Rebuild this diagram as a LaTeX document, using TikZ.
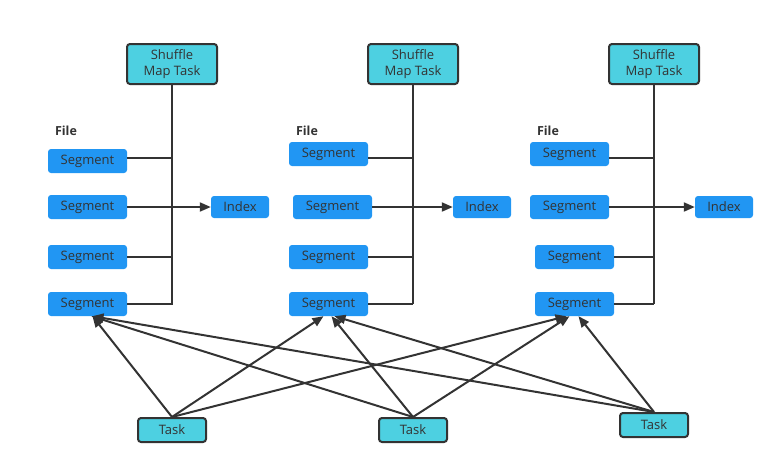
\documentclass[tikz,border=0pt]{standalone}
\usepackage{fontspec}
\setmainfont{Open Sans}
\usetikzlibrary{arrows.meta,calc}
\definecolor{segblue}{HTML}{2196F3}
\definecolor{cyanbox}{HTML}{4DD0E1}
\definecolor{ink}{HTML}{333333}
\begin{document}
\begin{tikzpicture}[x=1pt,y=-1pt,
  segbox/.style={fill=segblue, rounded corners=3pt, minimum width=79pt, minimum height=24pt, inner sep=0pt, text=ink, font=\fontsize{13}{15}\selectfont},
  idxbox/.style={segbox, minimum width=58pt, minimum height=22pt},
  mapbox/.style={fill=cyanbox, draw=ink, line width=2pt, rounded corners=3pt, minimum width=90pt, minimum height=40pt, inner sep=0pt, text=ink, align=center, font=\fontsize{13}{16}\selectfont},
  taskbox/.style={mapbox, minimum width=68pt, minimum height=24pt},
  wire/.style={draw=ink, line width=2pt},
  arr/.style={wire, -{Triangle[length=11pt,width=9pt]}},
  filelbl/.style={text=ink, font=\bfseries\fontsize{12.5}{14}\selectfont, inner sep=0pt}]
\useasboundingbox (0,0) rectangle (768,469);

% ---- column 1 ----
\node[mapbox] (m1) at (172,64) {Shuffle\\Map Task};
\node[filelbl] (f1) at (66,131) {File};
\node[segbox] (a1) at (87.5,161) {Segment};
\node[segbox] (b1) at (87.5,207) {Segment};
\node[segbox] (c1) at (87.5,257) {Segment};
\node[segbox] (d1) at (87.5,304) {Segment};
\node[idxbox] (i1) at (240,207) {Index};
\coordinate (e1) at (172,305);
\draw[wire] (m1.south) -- (e1);
\draw[wire] ([yshift=3pt]a1.east) -- ([yshift=3pt]a1.east -| e1);
\draw[wire] (c1.east) -- (c1.east -| e1);
\draw[wire] (d1.east) -- (d1.east -| e1);
\draw[arr] (b1.east) -- (i1.west);

% ---- column 2 ----
\node[mapbox] (m2) at (413,64) {Shuffle\\Map Task};
\node[filelbl] (f2) at (307,131) {File};
\node[segbox] (a2) at (328.5,154) {Segment};
\node[segbox] (b2) at (332.5,207) {Segment};
\node[segbox] (c2) at (328.5,257) {Segment};
\node[segbox] (d2) at (328.5,304) {Segment};
\node[idxbox] (i2) at (482,207) {Index};
\coordinate (e2) at (413,304);
\draw[wire] (m2.south) -- (e2);
\draw[wire] ([yshift=-4pt]a2.east) -- ([yshift=-4pt]a2.east -| e2);
\draw[wire] (c2.east) -- (c2.east -| e2);
\draw[wire] (d2.east) -- (d2.east -| e2);
\draw[arr] (b2.east) -- (i2.west);

% ---- column 3 ----
\node[mapbox] (m3) at (654,64) {Shuffle\\Map Task};
\node[filelbl] (f3) at (548,131) {File};
\node[segbox] (a3) at (569.5,154) {Segment};
\node[segbox] (b3) at (569.5,207) {Segment};
\node[segbox] (c3) at (574.5,257) {Segment};
\node[segbox] (d3) at (574.5,304) {Segment};
\node[idxbox] (i3) at (724,207) {Index};
\coordinate (e3) at (654,304);
\draw[wire] (m3.south) -- (e3);
\draw[wire] ([yshift=-4pt]a3.east) -- ([yshift=-4pt]a3.east -| e3);
\draw[wire] (c3.east) -- (c3.east -| e3);
\draw[wire] (d3.east) -- (d3.east -| e3);
\draw[arr] (b3.east) -- (i3.west);

% ---- tasks ----
\node[taskbox] (t1) at (172,430) {Task};
\node[taskbox] (t2) at (413,430) {Task};
\node[taskbox] (t3) at (654,425) {Task};

\draw[arr] (t1.north) -- ([xshift=5pt]d1.south);
\draw[arr] (t1.north) -- ([xshift=-5pt]d2.south);
\draw[arr] (t1.north) -- ([xshift=-8pt]d3.south);
\draw[arr] (t2.north) -- ([xshift=4pt]d1.south);
\draw[arr] (t2.north) -- ([xshift=3pt]d2.south);
\draw[arr] (t2.north) -- ([xshift=-5pt]d3.south);
\draw[arr] (t3.north) -- ([xshift=5pt]d1.south);
\draw[arr] (t3.north) -- ([xshift=6pt]d2.south);
\draw[arr] (t3.north) -- ([xshift=4pt]d3.south);
\end{tikzpicture}
\end{document}
